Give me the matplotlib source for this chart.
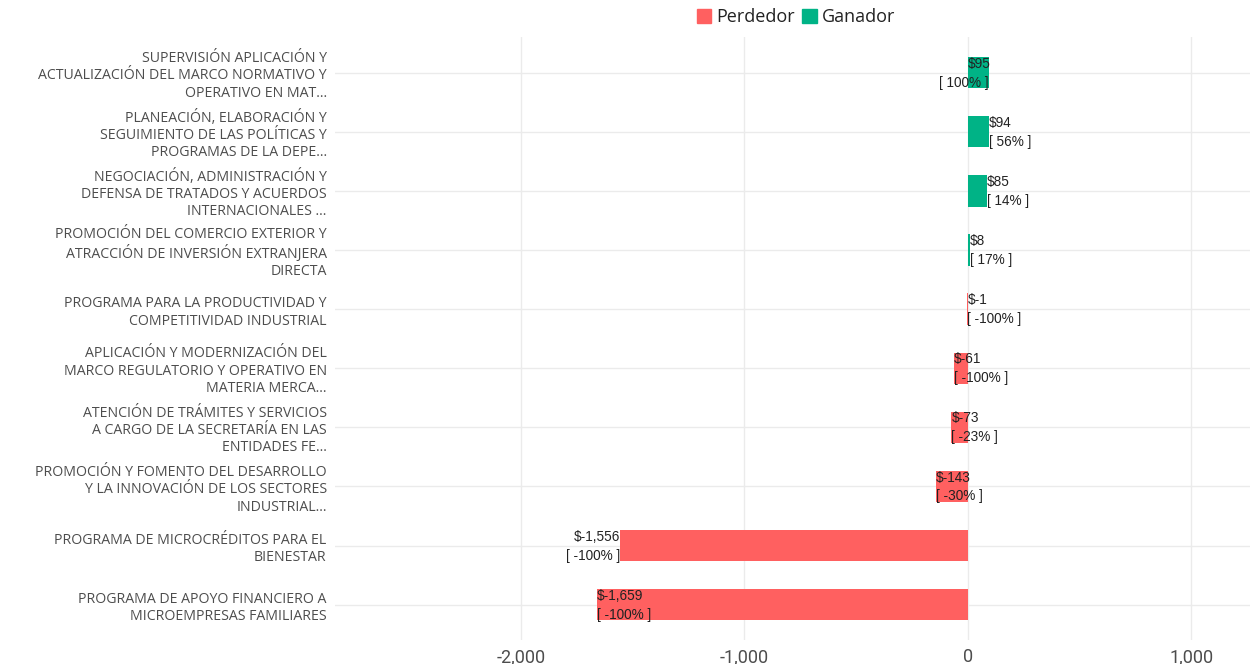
import matplotlib

matplotlib.use("Agg")
import matplotlib.pyplot as plt
from matplotlib.patches import Patch
import numpy as np

# Data, top to bottom as in the chart
programas = [
    "SUPERVISIÓN APLICACIÓN Y\nACTUALIZACIÓN DEL MARCO NORMATIVO Y\nOPERATIVO EN MAT...",
    "PLANEACIÓN, ELABORACIÓN Y\nSEGUIMIENTO DE LAS POLÍTICAS Y\nPROGRAMAS DE LA DEPE...",
    "NEGOCIACIÓN, ADMINISTRACIÓN Y\nDEFENSA DE TRATADOS Y ACUERDOS\nINTERNACIONALES ...",
    "PROMOCIÓN DEL COMERCIO EXTERIOR Y\nATRACCIÓN DE INVERSIÓN EXTRANJERA\nDIRECTA",
    "PROGRAMA PARA LA PRODUCTIVIDAD Y\nCOMPETITIVIDAD INDUSTRIAL",
    "APLICACIÓN Y MODERNIZACIÓN DEL\nMARCO REGULATORIO Y OPERATIVO EN\nMATERIA MERCA...",
    "ATENCIÓN DE TRÁMITES Y SERVICIOS\nA CARGO DE LA SECRETARÍA EN LAS\nENTIDADES FE...",
    "PROMOCIÓN Y FOMENTO DEL DESARROLLO\nY LA INNOVACIÓN DE LOS SECTORES\nINDUSTRIAL...",
    "PROGRAMA DE MICROCRÉDITOS PARA EL\nBIENESTAR",
    "PROGRAMA DE APOYO FINANCIERO A\nMICROEMPRESAS FAMILIARES",
]
cambio = [95, 94, 85, 8, -1, -61, -73, -143, -1556, -1659]
porcentaje = [100, 56, 14, 17, -100, -100, -23, -30, -100, -100]

# label alignment quirks of the original
ha_monto = ["left"] * 8 + ["right", "left"]
ha_pct = ["right"] + ["left"] * 7 + ["right", "left"]
monto_en_cero = [True] + [False] * 9

xticks = [-2000, -1000, 0, 1000]

ROJO = "#FF6060"
VERDE = "#00B386"
GRIS_TXT = "#4D4D4D"

fig = plt.figure(figsize=(12.5, 6.64), dpi=100)
ax = fig.add_axes([0.268, 0.036, 0.732, 0.908])

y = np.arange(len(programas))
colores = [VERDE if v > 0 else ROJO for v in cambio]
ax.barh(y, cambio, height=0.53, color=colores, zorder=2)

for i, (v, p) in enumerate(zip(cambio, porcentaje)):
    xm = 0 if monto_en_cero[i] else v
    ax.text(xm, i - 0.15, f"${v:,}", ha=ha_monto[i], va="center",
            fontsize=9.8, color="#222222", family="Liberation Sans", zorder=3)
    ax.text(v, i + 0.17, f"[ {p}% ]", ha=ha_pct[i], va="center",
            fontsize=9.8, color="#222222", family="Liberation Sans", zorder=3)

ax.set_yticks(y)
ax.set_yticklabels(programas, fontsize=10.2, color=GRIS_TXT, family="Open Sans",
                   linespacing=1.22)
ax.set_ylim(len(programas) - 0.4, -0.6)

ax.set_xlim(-2831, 1263)
ax.set_xticks(xticks)
ax.set_xticklabels([f"{t:,}" for t in xticks], fontsize=13, color=GRIS_TXT,
                   family="Roboto")

ax.grid(True, color="#EBEBEB", linewidth=1.0, zorder=0)
ax.set_axisbelow(True)
ax.tick_params(axis="both", length=0, pad=6)
for s in ax.spines.values():
    s.set_visible(False)

handles = [Patch(color=ROJO, label="Perdedor"), Patch(color=VERDE, label="Ganador")]
fig.legend(handles=handles, loc="center", bbox_to_anchor=(0.637, 0.974), ncol=2,
           frameon=False, prop={"family": "Open Sans", "size": 13},
           handlelength=0.8, handleheight=0.8, handletextpad=0.3, columnspacing=0.4,
           labelcolor="#222222")

fig.savefig("out.png", dpi=100)
